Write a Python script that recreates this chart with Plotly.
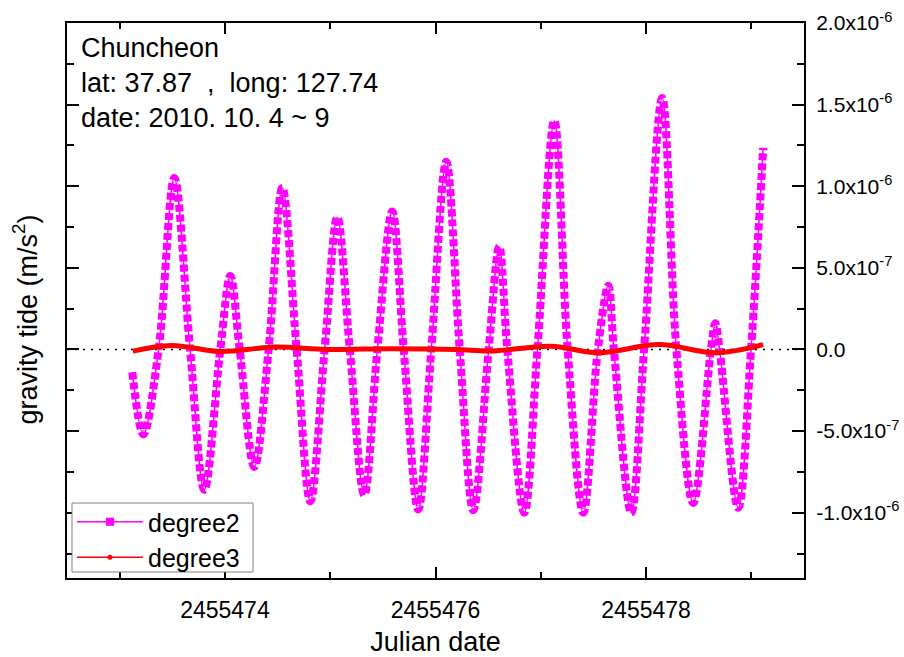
import plotly.graph_objects as go

# ---------------- data ----------------
# degree-2 gravity tide: turning points and zero crossings, in 1e-6 m/s^2
jd_deg2 = [2455473.120, 2455473.225, 2455473.370, 2455473.519, 2455473.669,
           2455473.804, 2455473.956, 2455474.051, 2455474.140, 2455474.279,
           2455474.415, 2455474.545, 2455474.681, 2455474.811, 2455474.947,
           2455475.067, 2455475.186, 2455475.323, 2455475.448, 2455475.589,
           2455475.698, 2455475.836, 2455475.960, 2455476.102, 2455476.230,
           2455476.359, 2455476.505, 2455476.605, 2455476.682, 2455476.843,
           2455476.968, 2455477.128, 2455477.255, 2455477.404, 2455477.542,
           2455477.641, 2455477.694, 2455477.859, 2455477.981, 2455478.153,
           2455478.288, 2455478.448, 2455478.616, 2455478.657, 2455478.698,
           2455478.875, 2455478.997, 2455479.112]
g_deg2 = [-0.14, -0.52, 0.00, 1.05, 0.00,
          -0.86, 0.00, 0.45, 0.00, -0.72,
          0.00, 0.99, 0.00, -0.93, 0.00,
          0.81, 0.00, -0.89, 0.00, 0.845,
          0.00, -0.98, 0.00, 1.15, 0.00,
          -0.985, 0.00, 0.63, 0.00, -1.00,
          0.00, 1.40, 0.00, -1.00, 0.00,
          0.39, 0.00, -1.00, 0.00, 1.54,
          0.00, -0.94, 0.00, 0.16, 0.00,
          -0.97, 0.00, 1.235]

# degree-3 gravity tide, in 1e-6 m/s^2
jd_deg3 = [2455473.125, 2455473.492, 2455473.943, 2455474.476, 2455474.968,
           2455475.583, 2455476.198, 2455476.526, 2455477.099, 2455477.550,
           2455478.125, 2455478.657, 2455479.112]
g_deg3 = [-0.010, 0.025, -0.012, 0.015, 0.000,
          0.005, 0.000, -0.010, 0.020, -0.020,
          0.030, -0.020, 0.030]

x_ticks = [2455474, 2455476, 2455478]
y_ticks = [-1.0e-6, -0.5e-6, 0.0, 0.5e-6, 1.0e-6, 1.5e-6, 2.0e-6]
y_tick_text = ["-1.0x10<sup>-6</sup>", "-5.0x10<sup>-7</sup>", "0.0",
               "5.0x10<sup>-7</sup>", "1.0x10<sup>-6</sup>",
               "1.5x10<sup>-6</sup>", "2.0x10<sup>-6</sup>"]
series_names = ["degree2", "degree3"]
info_lines = ["Chuncheon", "lat: 37.87  ,  long: 127.74", "date: 2010. 10. 4 ~ 9"]

MAGENTA = "#FF00FF"
RED = "#FF0000"
FONT = "Liberation Sans, Arial, sans-serif"

y2 = [v * 1e-6 for v in g_deg2]
y3 = [v * 1e-6 for v in g_deg3]

fig = go.Figure()

# degree2: thick "square" band + thin connecting line
fig.add_trace(go.Scatter(x=jd_deg2, y=y2, mode="lines", showlegend=False,
                         line=dict(color=MAGENTA, width=8, shape="spline",
                                   smoothing=1.0, dash="7px,3px"),
                         hoverinfo="skip"))
fig.add_trace(go.Scatter(x=jd_deg2, y=y2, mode="lines", showlegend=False,
                         line=dict(color=MAGENTA, width=1.5, shape="spline",
                                   smoothing=1.0)))
# degree3: thick red band
fig.add_trace(go.Scatter(x=jd_deg3, y=y3, mode="lines", showlegend=False,
                         line=dict(color=RED, width=5, shape="spline",
                                   smoothing=1.0)))

# legend entries
fig.add_trace(go.Scatter(x=[None], y=[None], mode="lines+markers",
                         name=series_names[0],
                         line=dict(color=MAGENTA, width=1.5),
                         marker=dict(symbol="square", size=8, color=MAGENTA)))
fig.add_trace(go.Scatter(x=[None], y=[None], mode="lines+markers",
                         name=series_names[1],
                         line=dict(color=RED, width=1.5),
                         marker=dict(symbol="circle", size=5, color=RED)))

# dotted zero reference line
fig.add_shape(type="line", xref="paper", yref="y", x0=0, x1=1, y0=0, y1=0,
              line=dict(color="black", width=1.5, dash="2px,6px"), layer="below")
# legend frame
fig.add_shape(type="rect", xref="paper", yref="paper", x0=0.0068, x1=0.2524,
              y0=0.0108, y1=0.1351, line=dict(color="#808080", width=1),
              fillcolor="white", layer="above")

fig.add_annotation(xref="paper", yref="paper", x=0, y=1, xanchor="left",
                   yanchor="top", xshift=12, yshift=-8, align="left",
                   showarrow=False, text="<br>".join(info_lines),
                   font=dict(family=FONT, size=27, color="black"))
fig.add_annotation(xref="paper", yref="paper", x=0, y=0.5, xanchor="center",
                   yanchor="middle", xshift=-42, yshift=-19, textangle=-90,
                   showarrow=False, text="gravity tide (m/s<sup>2</sup>)",
                   font=dict(family=FONT, size=27, color="black"))

fig.update_layout(
    width=904, height=657,
    margin=dict(l=67, r=100, t=23, b=79, autoexpand=False),
    paper_bgcolor="white", plot_bgcolor="white",
    font=dict(family=FONT, color="black"),
    legend=dict(x=0.0068, y=0.1423, xanchor="left", yanchor="top",
                bgcolor="rgba(0,0,0,0)", borderwidth=0,
                font=dict(family=FONT, size=25), itemwidth=66,
                tracegroupgap=0),
)
fig.update_xaxes(
    range=[2455472.5, 2455479.5], tickmode="array", tickvals=x_ticks,
    tickformat="d", ticks="inside", ticklen=11, tickwidth=1.5,
    tickcolor="black", showline=True, linecolor="black", linewidth=2,
    mirror="ticks", showgrid=False, zeroline=False, automargin=False,
    tickfont=dict(family=FONT, size=23), ticklabelstandoff=10,
    title=dict(text="Julian date", font=dict(family=FONT, size=27), standoff=14),
    minor=dict(tickmode="linear", tick0=2455473, dtick=1, ticks="inside",
               ticklen=6, tickwidth=1.5, tickcolor="black", showgrid=False),
)
fig.update_yaxes(
    range=[-1.4e-6, 2.0e-6], side="right", tickmode="array", tickvals=y_ticks,
    ticktext=y_tick_text, ticks="inside", ticklen=12, tickwidth=1.5,
    tickcolor="black", showline=True, linecolor="black", linewidth=2,
    mirror="ticks", showgrid=False, zeroline=False, automargin=False,
    tickfont=dict(family=FONT, size=21), ticklabelstandoff=6,
    ticklabeloverflow="allow",
    minor=dict(tickmode="linear", tick0=0, dtick=0.25e-6, ticks="inside",
               ticklen=7, tickwidth=1.5, tickcolor="black", showgrid=False),
)

# the page's default 8px body margin would shift the figure; remove it
fig.write_html("out.html", config={"displayModeBar": False},
               post_script="document.body.style.margin='0';"
                           "document.body.style.overflow='hidden';")
